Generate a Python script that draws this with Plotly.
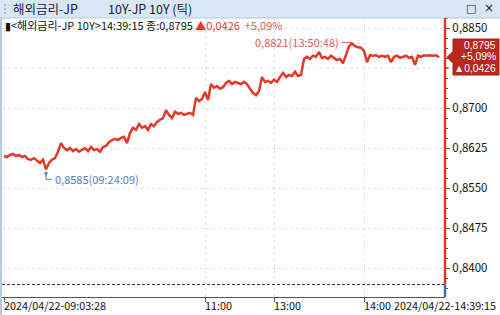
import plotly.graph_objects as go

# ---------------- data ----------------
values = [
    0.8610, 0.8608, 0.8612, 0.8614, 0.8610, 0.8612, 0.8608, 0.8610, 0.8604, 0.8603,
    0.8606, 0.8601, 0.8597, 0.8603, 0.8585, 0.8597, 0.8603, 0.8606, 0.8618, 0.8634,
    0.8625, 0.8621, 0.8625, 0.8619, 0.8623, 0.8618, 0.8621, 0.8625, 0.8619, 0.8627,
    0.8621, 0.8623, 0.8618, 0.8627, 0.8629, 0.8636, 0.8640, 0.8642, 0.8640, 0.8644,
    0.8646, 0.8634, 0.8653, 0.8663, 0.8659, 0.8670, 0.8663, 0.8666, 0.8659, 0.8670,
    0.8666, 0.8674, 0.8678, 0.8681, 0.8696, 0.8687, 0.8681, 0.8693, 0.8689, 0.8691,
    0.8687, 0.8689, 0.8691, 0.8687, 0.8719, 0.8713, 0.8717, 0.8730, 0.8715, 0.8745,
    0.8738, 0.8741, 0.8736, 0.8739, 0.8747, 0.8751, 0.8745, 0.8749, 0.8747, 0.8745,
    0.8749, 0.8745, 0.8736, 0.8728, 0.8724, 0.8732, 0.8758, 0.8749, 0.8751, 0.8747,
    0.8753, 0.8749, 0.8758, 0.8766, 0.8758, 0.8762, 0.8760, 0.8768, 0.8760, 0.8762,
    0.8792, 0.8796, 0.8792, 0.8798, 0.8796, 0.8805, 0.8794, 0.8796, 0.8792, 0.8798,
    0.8794, 0.8790, 0.8792, 0.8784, 0.8799, 0.8816, 0.8821, 0.8816, 0.8814, 0.8813,
    0.8807, 0.8786, 0.8799, 0.8798, 0.8799, 0.8796, 0.8798, 0.8796, 0.8798, 0.8786,
    0.8796, 0.8798, 0.8794, 0.8796, 0.8798, 0.8794, 0.8796, 0.8781, 0.8798, 0.8796,
    0.8799, 0.8798, 0.8799, 0.8798, 0.8799, 0.8795,
]
tick_index = list(range(len(values)))

prev_close = 0.8369
last_value = 0.8795
last_text = "0,8795"
change = "▲0,0426"
change_pct = "+5,09%"
high_label = "0,8821(13:50:48)"
low_label = "0,8585(09:24:09)"

y_tickvals = [0.8400, 0.8475, 0.8550, 0.8625, 0.8700, 0.8775, 0.8850]
y_ticktext = ["0,8400", "0,8475", "0,8550", "0,8625", "0,8700", "0,8775", "0,8850"]

time_tick_index = [67, 90, 120]
time_tick_text = ["11:00", "13:00", "14:00"]
start_label = "2024/04/22-09:03:28"
end_label = "2024/04/22-14:39:15"

title_left = "해외금리-JP"
title_right = "10Y-JP 10Y (틱)"
info_text = "▮<해외금리-JP 10Y>14:39:15 종:" + last_text + " "

# ---------------- layout geometry ----------------
W, H = 500, 315
ML, MR, MT, MB = 2, 55, 18, 18
PW, PH = W - ML - MR, H - MT - MB
Y_RANGE = [0.834562, 0.886875]
X_RANGE = [-0.67, 147.0]

def px_x(px):
    return (px - ML) / PW

def px_y(py):
    return (H - MB - py) / PH

FONT = "Noto Sans CJK KR"
RED = "#e03a2c"
GRID = "#e2e2e2"

fig = go.Figure()
fig.add_trace(go.Scatter(
    x=tick_index, y=values, mode="lines",
    line=dict(color=RED, width=2.5), hoverinfo="skip", showlegend=False,
))

hi_idx = values.index(max(values))
lo_idx = values.index(min(values))
dxp = (X_RANGE[1] - X_RANGE[0]) / PW
dyp = (Y_RANGE[1] - Y_RANGE[0]) / PH

# the current-value box hides the axis label that falls beneath it
box_top = last_value + 18 * dyp
box_bot = last_value - 18 * dyp
covered = [v for v in y_tickvals if box_bot <= v <= box_top]
axis_vals = [v for v in y_tickvals if v not in covered]
axis_text = [t for v, t in zip(y_tickvals, y_ticktext) if v not in covered]

shapes = []
annotations = []

# gridline + tick for the covered level
for v in covered:
    shapes.append(dict(type="line", xref="paper", yref="y", x0=0, x1=1, y0=v, y1=v,
                       line=dict(color=GRID, width=1, dash="3px,3px"), layer="below"))
    shapes.append(dict(type="line", xref="paper", yref="y", x0=1, x1=px_x(449), y0=v, y1=v,
                       line=dict(color="#555555", width=1)))

# title bar
shapes.append(dict(type="rect", xref="paper", yref="paper", x0=px_x(0), x1=px_x(W),
                   y0=px_y(18), y1=px_y(0), fillcolor="#d9e6f3", line=dict(width=0), layer="below"))
shapes.append(dict(type="line", xref="paper", yref="paper", x0=px_x(0), x1=px_x(W),
                   y0=px_y(18), y1=px_y(18), line=dict(color="#b8c9dc", width=1)))
# grip dots
for gy in (5, 9, 13):
    shapes.append(dict(type="rect", xref="paper", yref="paper", x0=px_x(4), x1=px_x(6),
                       y0=px_y(gy + 1), y1=px_y(gy - 1), fillcolor="#a9b8c8", line=dict(width=0)))
# left border
shapes.append(dict(type="rect", xref="paper", yref="paper", x0=px_x(0), x1=px_x(2),
                   y0=px_y(H), y1=px_y(18), fillcolor="#b9c9da", line=dict(width=0)))

# previous close dotted line
shapes.append(dict(type="line", xref="paper", yref="y", x0=0, x1=1, y0=prev_close, y1=prev_close,
                   line=dict(color="#333333", width=1, dash="3px,2px")))
# right axis line: red above previous close, blue below
shapes.append(dict(type="line", xref="paper", yref="y", x0=1, x1=1, y0=prev_close, y1=Y_RANGE[1],
                   line=dict(color="#e23a2a", width=2.5)))
shapes.append(dict(type="line", xref="paper", yref="y", x0=1, x1=1, y0=Y_RANGE[0], y1=prev_close,
                   line=dict(color="#3f6fb5", width=2.5)))

# high annotation connector
shapes.append(dict(type="line", xref="x", yref="y", x0=hi_idx - 10 * dxp, x1=hi_idx,
                   y0=max(values) + 1 * dyp, y1=max(values) + 1 * dyp,
                   line=dict(color="#e0605a", width=1)))
annotations.append(dict(x=hi_idx - 11 * dxp, y=max(values) + 1 * dyp, xref="x", yref="y",
                        text=high_label, showarrow=False, xanchor="right", yanchor="middle",
                        font=dict(family=FONT, size=11, color="#e0605a")))
# low annotation connector (L shape with arrow)
shapes.append(dict(type="line", xref="x", yref="y", x0=lo_idx, x1=lo_idx,
                   y0=min(values) - 3 * dyp, y1=min(values) - 10 * dyp,
                   line=dict(color="#5a7bb5", width=1)))
shapes.append(dict(type="line", xref="x", yref="y", x0=lo_idx, x1=lo_idx + 6 * dxp,
                   y0=min(values) - 10 * dyp, y1=min(values) - 10 * dyp,
                   line=dict(color="#5a7bb5", width=1)))
annotations.append(dict(x=lo_idx, y=min(values) - 2 * dyp, xref="x", yref="y", ax=0, ay=6,
                        text="", showarrow=True, arrowhead=1, arrowsize=0.8, arrowwidth=1,
                        arrowcolor="#5a7bb5"))
annotations.append(dict(x=lo_idx + 7 * dxp, y=min(values) - 10 * dyp, xref="x", yref="y",
                        text=low_label, showarrow=False, xanchor="left", yanchor="middle",
                        font=dict(family=FONT, size=11, color="#5a7bb5")))

# current value label box
ly = 28 + (0.8850 - last_value) / dyp
path = "M {} {} L {} {} L {} {} L {} {} L {} {} L {} {} L {} {} Z".format(
    px_x(447), px_y(ly), px_x(453), px_y(ly - 6), px_x(453), px_y(39), px_x(499), px_y(39),
    px_x(499), px_y(75), px_x(453), px_y(75), px_x(453), px_y(ly + 6))
shapes.append(dict(type="path", xref="paper", yref="paper", path=path,
                   fillcolor="#b9281f", line=dict(color="#a82018", width=1)))
for i, t in enumerate([last_text, change_pct, change]):
    annotations.append(dict(x=px_x(497), y=px_y(45 + 12 * i), xref="paper", yref="paper",
                            text=t, showarrow=False, xanchor="right", yanchor="middle",
                            borderpad=0,
                            font=dict(family="Liberation Sans", size=10.3, color="white")))

# title texts
annotations.append(dict(x=px_x(11), y=px_y(8.5), xref="paper", yref="paper", text=title_left,
                        showarrow=False, xanchor="left", yanchor="middle",
                        font=dict(family=FONT, size=12.5, color="#1b2233")))
annotations.append(dict(x=px_x(106), y=px_y(8.5), xref="paper", yref="paper", text=title_right,
                        showarrow=False, xanchor="left", yanchor="middle",
                        font=dict(family=FONT, size=12.5, color="#1b2233")))
annotations.append(dict(x=px_x(471), y=px_y(8.5), xref="paper", yref="paper", text="□",
                        showarrow=False, xanchor="center", yanchor="middle",
                        font=dict(family="DejaVu Sans", size=11, color="#1b2233")))
annotations.append(dict(x=px_x(489), y=px_y(8.5), xref="paper", yref="paper", text="×",
                        showarrow=False, xanchor="center", yanchor="middle",
                        font=dict(family="DejaVu Sans", size=12, color="#1b2233")))

# info line
annotations.append(dict(
    x=px_x(3), y=px_y(25.5), xref="paper", yref="paper",
    text=info_text + "<span style='color:#e03a2c'>" + change + "</span>  "
         + "<span style='color:#e0605a'>" + change_pct + "</span>",
    showarrow=False, xanchor="left", yanchor="middle",
    font=dict(family=FONT, size=11, color="#111111")))

# x labels
annotations.append(dict(x=px_x(2), y=px_y(305), xref="paper", yref="paper", text=start_label,
                        showarrow=False, xanchor="left", yanchor="middle",
                        font=dict(family=FONT, size=10.8, color="#111111")))
annotations.append(dict(x=px_x(498), y=px_y(305), xref="paper", yref="paper", text=end_label,
                        showarrow=False, xanchor="right", yanchor="middle",
                        font=dict(family=FONT, size=10.8, color="#111111")))
for ti, tt in zip(time_tick_index, time_tick_text):
    annotations.append(dict(x=ti, y=px_y(305), xref="x", yref="paper", text=tt,
                            showarrow=False, xanchor="left", yanchor="middle", xshift=-2,
                            font=dict(family=FONT, size=10.8, color="#111111")))

fig.update_layout(
    width=W, height=H, margin=dict(l=ML, r=MR, t=MT, b=MB, pad=0),
    paper_bgcolor="white", plot_bgcolor="white", showlegend=False,
    shapes=shapes, annotations=annotations,
    xaxis=dict(range=X_RANGE, showline=True, linecolor="#555555", linewidth=1,
               tickmode="array", tickvals=[0] + time_tick_index, showticklabels=False,
               ticks="outside", ticklen=4, tickcolor="#555555",
               showgrid=True, gridcolor=GRID, griddash="3px,3px", zeroline=False,
               fixedrange=True),
    yaxis=dict(range=Y_RANGE, side="right", tickmode="array", tickvals=axis_vals,
               ticktext=axis_text, ticks="outside", ticklen=4, tickcolor="#555555",
               tickfont=dict(family=FONT, size=11.5, color="#111111"),
               minor=dict(tickmode="linear", tick0=0.84, dtick=0.001875, ticks="outside",
                          ticklen=2, tickcolor="#555555", showgrid=False),
               showgrid=True, gridcolor=GRID, griddash="3px,3px", zeroline=False,
               showline=False, fixedrange=True),
)

fig.write_html("out.html")
